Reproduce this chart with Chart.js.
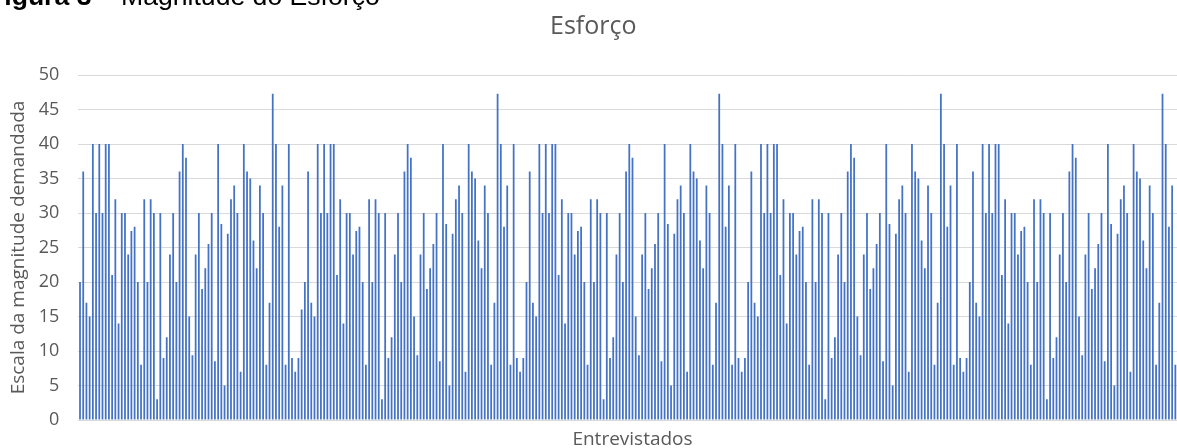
<!DOCTYPE html>
<html lang="pt">
<head>
<meta charset="utf-8">
<script src="https://cdn.jsdelivr.net/npm/chart.js@4.4.1/dist/chart.umd.min.js"></script>
<style>
  html, body { margin: 0; padding: 0; background: #fff; overflow: hidden; }
  #legenda {
    position: absolute; left: -12px; top: -17px;
    font-family: 'Liberation Sans', Arial, sans-serif; font-size: 26.6px; line-height: 26px;
    color: #000; white-space: nowrap;
  }
  #legenda b { font-weight: bold; }
  #wrap { position: absolute; left: 0; top: 0; }
</style>
</head>
<body>
<div id="wrap"><canvas id="graph" width="1188" height="460"></canvas></div>
<div id="legenda"><b>Figura 3</b> – Magnitude do Esforço</div>
<script>
// valores, em blocos da esquerda para a direita
const bloco0 = [20, 36, 17, 15, 40, 30, 40, 30, 40, 40, 21, 32, 14, 30, 30, 24, 27.4, 28, 20, 8,
  32, 20, 32, 30, 3, 30, 9, 12, 24, 30, 20, 36, 40, 38, 15, 9.4, 24, 30, 19, 22,
  25.5, 30, 8.5, 40, 28.4, 5, 27, 32, 34, 30, 7, 40, 36, 35, 26, 22, 34, 30, 8, 17, 47.3];
const bloco1 = [40, 28, 34, 8, 40, 9, 7, 9, 16, 20, 36, 17, 15, 40, 30, 40, 30, 40, 40, 21,
  32, 14, 30, 30, 24, 27.4, 28, 20, 8, 32, 20, 32, 30, 3, 30, 9, 12, 24, 30, 20,
  36, 40, 38, 15, 9.4, 24, 30, 19, 22, 25.5, 30, 8.5, 40, 28.4, 5, 27, 32, 34, 30, 7,
  40, 36, 35, 26, 22, 34, 30, 8, 17, 47.3];
const bloco2 = [40, 28, 34, 8, 40, 9, 7, 9, 20, 36, 17, 15, 40, 30, 40, 30, 40, 40, 21,
  32, 14, 30, 30, 24, 27.4, 28, 20, 8, 32, 20, 32, 30, 3, 30, 9, 12, 24, 30, 20,
  36, 40, 38, 15, 9.4, 24, 30, 19, 22, 25.5, 30, 8.5, 40, 28.4, 5, 27, 32, 34, 30, 7,
  40, 36, 35, 26, 22, 34, 30, 8, 17, 47.3];
const bloco3 = [40, 28, 34, 8, 40, 9, 7, 9, 20, 36, 17, 15, 40, 30, 40, 30, 40, 40, 21,
  32, 14, 30, 30, 24, 27.4, 28, 20, 8, 32, 20, 32, 30, 3, 30, 9, 12, 24, 30, 20,
  36, 40, 38, 15, 9.4, 24, 30, 19, 22, 25.5, 30, 8.5, 40, 28.4, 5, 27, 32, 34, 30, 7,
  40, 36, 35, 26, 22, 34, 30, 8, 17, 47.3];
const bloco4 = [40, 28, 34, 8, 40, 9, 7, 9, 20, 36, 17, 15, 40, 30, 40, 30, 40, 40, 21,
  32, 14, 30, 30, 24, 27.4, 28, 20, 8, 32, 20, 32, 30, 3, 30, 9, 12, 24, 30, 20,
  36, 40, 38, 15, 9.4, 24, 30, 19, 22, 25.5, 30, 8.5, 40, 28.4, 5, 27, 32, 34, 30, 7,
  40, 36, 35, 26, 22, 34, 30, 8, 17, 47.3];
const bloco5 = [40, 28, 34, 8, 40, 9, 7];

const esforco = [].concat(bloco0, bloco1, bloco2, bloco3, bloco4, bloco5);
// um entrevistado por barra
const entrevistados = esforco.map((_, i) => String(i + 1));

const cinza = '#595959';
const grade = '#d9d9d9';

const ctx = document.getElementById('graph').getContext('2d');
new Chart(ctx, {
  type: 'bar',
  data: {
    labels: entrevistados,
    datasets: [{
      label: 'Esforço',
      data: esforco,
      backgroundColor: '#4472C4',
      borderWidth: 0,
      barPercentage: 0.55,
      categoryPercentage: 1.0
    }]
  },
  options: {
    responsive: false,
    animation: false,
    layout: { padding: { left: 0, right: 1.4, top: 0, bottom: 0 } },
    plugins: {
      legend: { display: false },
      tooltip: { enabled: false },
      title: {
        display: true,
        text: 'Esforço',
        color: cinza,
        font: { family: "'Open Sans'", size: 25, weight: 'normal', lineHeight: 1.2 },
        padding: { top: 12.3, bottom: 32.7 }
      }
    },
    scales: {
      x: {
        grid: { display: false },
        border: { display: false },
        ticks: { display: false },
        title: {
          display: true,
          text: 'Entrevistados',
          color: cinza,
          font: { family: "'Open Sans'", size: 19, lineHeight: 1.2 },
          padding: { top: 0, bottom: 9.3 }
        },
        afterFit: (s) => { s.height = 40; }
      },
      y: {
        min: 0,
        max: 50,
        ticks: {
          stepSize: 5,
          color: cinza,
          padding: 19.1,
          font: { family: "'Open Sans'", size: 18 }
        },
        grid: { color: grade, lineWidth: 1, drawTicks: false },
        border: { display: false },
        title: {
          display: true,
          text: 'Escala da magnitude demandada',
          color: cinza,
          font: { family: "'Open Sans'", size: 19, lineHeight: 1.2 },
          padding: { top: 7.3, bottom: 0 }
        },
        afterFit: (s) => { s.width = 78.4; }
      }
    }
  }
});
</script>
</body>
</html>
